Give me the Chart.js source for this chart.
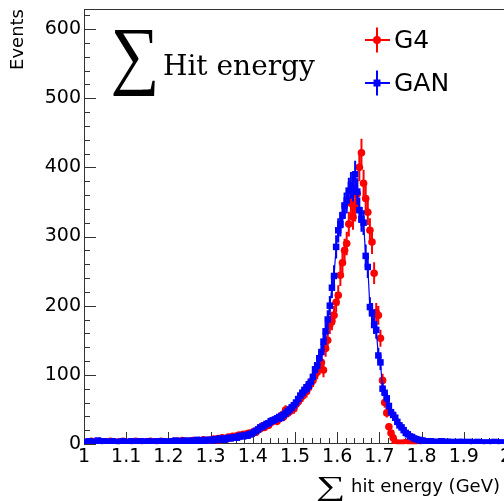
<!DOCTYPE html>
<html>
<head>
<meta charset="utf-8">
<script src="https://cdn.jsdelivr.net/npm/chart.js@4.4.1/dist/chart.umd.min.js"></script>
<style>
    html, body { margin: 0; padding: 0; overflow: hidden; background: #fff; }
    #wrap { position: absolute; left: 0; top: 0; width: 520px; height: 501px; }
</style>
</head>
<body>
<div id="wrap"><canvas id="myChart"></canvas></div>
<script>
// histogram binning: 200 bins from 1 to 2 GeV
const binStart = 1.0;
const binWidth = 0.005;

// G4 counts per bin (null = empty bin, not drawn)
const g4Counts = [
    2, 3, 1, 4, 2, 3, 2, 4, 1, 3,
    3, 2, 4, 2, 3, 1, 3, 2, 4, 3,
    2, 3, 1, 2, 4, 3, 2, 1, 3, 2,
    3, 4, 2, 3, 1, 2, 4, 3, 2, 3,
    3, 2, 4, 3, 4, 2, 5, 3, 4, 3,
    4, 5, 3, 4, 5, 4, 6, 4, 5, 5,
    6, 7, 5, 8, 6, 9, 8, 7, 10, 9,
    11, 10, 12, 13, 12, 14, 13, 15, 16, 15,
    18, 17, 21, 22, 26, 24, 28, 27, 31, 33,
    35, 33, 38, 41, 39, 49, 45, 47, 52, 51,
    58, 61, 66, 69, 75, 76, 82, 87, 92, 100,
    104, 110, 118, 107, 138, 150, 172, 178, 186, 205,
    215, 244, 262, 280, 290, 318, 348, 328, 340, 362,
    400, 421, 377, 355, 335, 309, 292, 247, 190, 186,
    153, 92, 60, 45, 25, 16, 9, 2, 1, 1,
    1, 1, 2, 1, 1, 1, 1, 1, 2, 1,
    null, null, null, null, null, null, null, null, null, null,
    null, null, null, null, null, null, null, null, null, null,
    null, null, null, null, null, null, null, null, null, null,
    null, null, null, null, null, null, null, null, null, null
];

// GAN counts per bin
const ganCounts = [
    3, 2, 4, 3, 2, 3, 5, 2, 3, 4,
    2, 3, 3, 4, 2, 3, 1, 3, 4, 2,
    3, 2, 4, 3, 3, 2, 4, 3, 2, 3,
    4, 3, 2, 3, 4, 3, 2, 4, 3, 3,
    3, 4, 3, 5, 4, 3, 4, 5, 3, 4,
    5, 4, 4, 6, 5, 4, 5, 6, 5, 6,
    6, 5, 7, 6, 8, 7, 6, 8, 9, 8,
    9, 10, 9, 11, 12, 11, 13, 12, 14, 15,
    17, 19, 21, 24, 25, 27, 29, 30, 33, 34,
    35, 37, 39, 38, 42, 44, 47, 50, 53, 56,
    60, 65, 70, 74, 78, 82, 84, 90, 97, 108,
    113, 124, 133, 148, 163, 180, 200, 226, 243, 285,
    309, 318, 330, 345, 352, 366, 374, 370, 390, 365,
    338, 325, 320, 272, 256, 198, 190, 172, 165, 128,
    118, 80, 74, 66, 55, 46, 42, 38, 32, 27,
    24, 20, 16, 14, 11, 10, 8, 7, 6, 5,
    5, 4, 4, 3, 4, 3, 3, 2, 3, 4,
    2, 3, 3, 2, 3, 2, 2, 3, 2, 3,
    2, 2, 3, 1, 2, 2, 3, 2, 2, 1,
    2, 2, 1, 2, 3, 2, 1, 2, 2, 1
];

const xTickValues = [1, 1.1, 1.2, 1.3, 1.4, 1.5, 1.6, 1.7, 1.8, 1.9, 2];
const xTickLabels = ['1', '1.1', '1.2', '1.3', '1.4', '1.5', '1.6', '1.7', '1.8', '1.9', '2'];
const yTickValues = [0, 100, 200, 300, 400, 500, 600];
const yTickLabels = ['0', '100', '200', '300', '400', '500', '600'];

const seriesNames = ['G4', 'GAN'];
const seriesColors = ['rgb(255, 0, 0)', 'rgb(0, 0, 255)'];

const toPoints = function (counts) {
    return counts.map((c, i) => ({ x: binStart + binWidth * (i + 0.5), y: c }));
};

const sansFont = 'DejaVu Sans';

// ROOT-like frame, inside ticks, error bars, legend and x title
const rootStyle = {
    id: 'rootStyle',
    beforeDatasetsDraw(chart) {
        const { ctx, chartArea: a, scales: { x, y } } = chart;
        ctx.save();
        ctx.strokeStyle = '#333';
        ctx.lineWidth = 1;
        ctx.strokeRect(Math.round(a.left) + 0.5, Math.round(a.top) + 0.5,
            Math.round(a.right - a.left), Math.round(a.bottom - a.top) - 1);

        ctx.beginPath();
        // x ticks, 4 minors between majors
        for (let k = 0; k < xTickValues.length; k++) {
            const px = Math.round(x.getPixelForValue(xTickValues[k])) + 0.5;
            ctx.moveTo(px, a.bottom);
            ctx.lineTo(px, a.bottom - 12);
            if (k < xTickValues.length - 1) {
                const step = (xTickValues[k + 1] - xTickValues[k]) / 5;
                for (let m = 1; m < 5; m++) {
                    const mx = Math.round(x.getPixelForValue(xTickValues[k] + step * m)) + 0.5;
                    ctx.moveTo(mx, a.bottom);
                    ctx.lineTo(mx, a.bottom - 6);
                }
            }
        }
        // y ticks, up to the top of the frame
        const yStep = (yTickValues[1] - yTickValues[0]) / 5;
        for (let v = 0; v <= y.max; v += yStep) {
            const py = Math.round(y.getPixelForValue(v)) + 0.5;
            const major = Math.abs(v / (yStep * 5) - Math.round(v / (yStep * 5))) < 1e-6;
            ctx.moveTo(a.left, py);
            ctx.lineTo(a.left + (major ? 12 : 6), py);
        }
        ctx.stroke();
        ctx.restore();
    },
    beforeDatasetDraw(chart, args) {
        const { ctx, scales: { x, y } } = chart;
        const ds = chart.data.datasets[args.index];
        ctx.save();
        ctx.strokeStyle = ds.borderColor;
        ctx.lineWidth = 2;
        ctx.beginPath();
        ds.data.forEach((p) => {
            if (p.y === null || p.y <= 0) return;
            const err = Math.sqrt(p.y);
            const px = x.getPixelForValue(p.x);
            ctx.moveTo(px, y.getPixelForValue(p.y - err));
            ctx.lineTo(px, y.getPixelForValue(p.y + err));
            const py = y.getPixelForValue(p.y);
            ctx.moveTo(x.getPixelForValue(p.x - binWidth / 2), py);
            ctx.lineTo(x.getPixelForValue(p.x + binWidth / 2), py);
        });
        ctx.stroke();
        ctx.restore();
    },
    afterDraw(chart) {
        const { ctx } = chart;
        ctx.save();
        ctx.fillStyle = '#000';
        ctx.textBaseline = 'alphabetic';

        // big sigma, stretched to fit a box
        const drawSigma = function (left, top, width, height) {
            ctx.save();
            ctx.font = '100px "Liberation Serif"';
            const m = ctx.measureText('\u2211');
            const h = m.actualBoundingBoxAscent + m.actualBoundingBoxDescent;
            const w = m.actualBoundingBoxLeft + m.actualBoundingBoxRight;
            ctx.translate(left, top);
            ctx.scale(width / w, height / h);
            ctx.fillText('\u2211', m.actualBoundingBoxLeft, m.actualBoundingBoxAscent);
            ctx.restore();
        };

        // legend header
        drawSigma(113, 30, 42, 67);
        ctx.font = '28px "DejaVu Serif"';
        ctx.fillText('Hit energy', 163, 75);

        // legend entries
        const entryY = [40, 83];
        chart.data.datasets.forEach((ds, i) => {
            const cx = 377, cy = entryY[i];
            ctx.strokeStyle = ds.borderColor;
            ctx.fillStyle = ds.backgroundColor;
            ctx.lineWidth = 2;
            ctx.beginPath();
            ctx.moveTo(365, cy); ctx.lineTo(390, cy);
            ctx.moveTo(cx, cy - 12.5); ctx.lineTo(cx, cy + 12.5);
            ctx.stroke();
            ctx.beginPath();
            if (ds.pointStyle === 'rect') ctx.rect(cx - 3.5, cy - 3.5, 7, 7);
            else ctx.arc(cx, cy, 4, 0, Math.PI * 2);
            ctx.fill();
            ctx.fillStyle = '#000';
            ctx.font = '25px "' + sansFont + '"';
            ctx.textBaseline = 'middle';
            ctx.fillText(ds.label, 394, cy + 1);
            ctx.textBaseline = 'alphabetic';
        });

        // x axis title
        drawSigma(318, 477, 25, 24);
        ctx.font = '18px "' + sansFont + '"';
        ctx.textAlign = 'right';
        ctx.fillText('hit energy (GeV)', 500, 492);
        ctx.restore();
    }
};

const ctx = document.getElementById('myChart').getContext('2d');
const myChart = new Chart(ctx, {
    type: 'scatter',
    data: {
        datasets: [{
            label: seriesNames[0],
            data: toPoints(g4Counts),
            borderColor: seriesColors[0],
            backgroundColor: seriesColors[0],
            pointStyle: 'circle',
            pointRadius: 3.8,
            pointBorderWidth: 0,
            showLine: false,
            order: 2
        }, {
            label: seriesNames[1],
            data: toPoints(ganCounts),
            borderColor: seriesColors[1],
            backgroundColor: seriesColors[1],
            pointStyle: 'rect',
            pointRadius: 4.6,
            pointBorderWidth: 0,
            showLine: true,
            borderWidth: 1.2,
            spanGaps: true,
            order: 1
        }]
    },
    options: {
        responsive: true,
        maintainAspectRatio: false,
        animation: false,
        layout: { padding: { top: 9, right: 14, left: 0, bottom: 0 } },
        plugins: {
            legend: { display: false },
            tooltip: { enabled: false }
        },
        scales: {
            x: {
                type: 'linear',
                min: 1,
                max: 2,
                grid: { display: false, drawTicks: false },
                border: { display: false },
                ticks: {
                    color: '#000',
                    font: { family: sansFont, size: 19 },
                    padding: 2,
                    maxRotation: 0,
                    autoSkip: false,
                    callback: (v, i) => xTickLabels[i]
                },
                afterBuildTicks: (s) => { s.ticks = xTickValues.map(v => ({ value: v })); },
                afterFit: (s) => { s.height = 57; s.paddingLeft = 0; s.paddingRight = 0; }
            },
            y: {
                min: 0,
                max: 629,
                grid: { display: false, drawTicks: false },
                border: { display: false },
                ticks: {
                    color: '#000',
                    font: { family: sansFont, size: 19 },
                    padding: 3,
                    autoSkip: false,
                    callback: (v, i) => yTickLabels[i]
                },
                title: {
                    display: true,
                    text: 'Events',
                    align: 'end',
                    color: '#000',
                    font: { family: sansFont, size: 18 },
                    padding: { top: 8, bottom: 0 }
                },
                afterBuildTicks: (s) => { s.ticks = yTickValues.map(v => ({ value: v })); },
                afterFit: (s) => { s.width = 84; s.paddingTop = 0; s.paddingBottom = 0; }
            }
        }
    },
    plugins: [rootStyle]
});
</script>
</body>
</html>
